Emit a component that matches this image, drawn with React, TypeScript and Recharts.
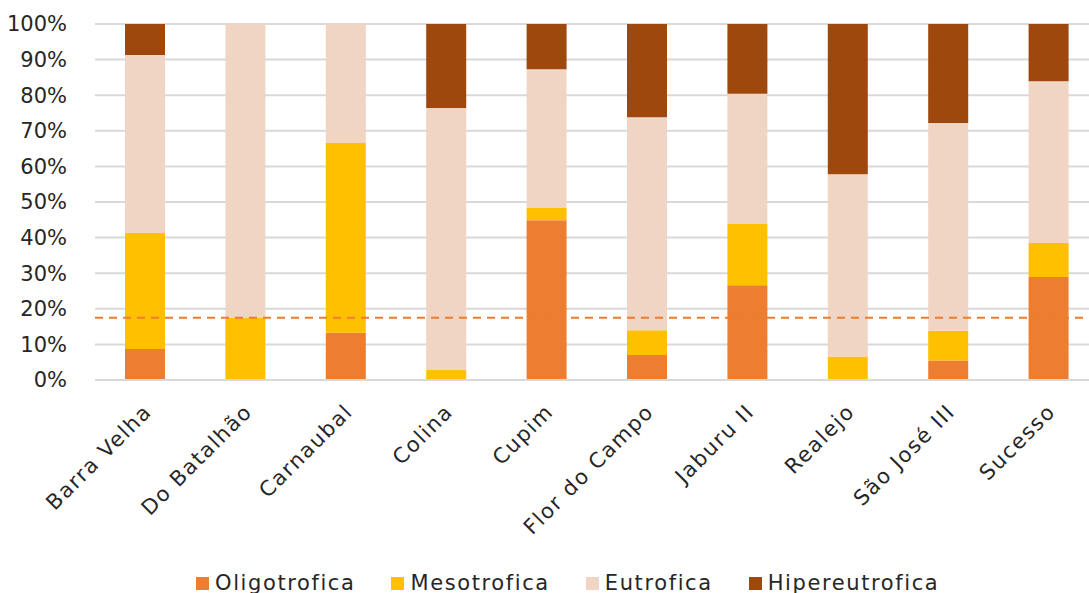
import React from 'react';
import { BarChart, Bar, XAxis, YAxis, CartesianGrid, Legend, ReferenceLine } from 'recharts';

const categories = ['Barra Velha', 'Do Batalhão', 'Carnaubal', 'Colina', 'Cupim', 'Flor do Campo', 'Jaburu II', 'Realejo', 'São José III', 'Sucesso'];
const oligotrofica = [8.7, 0, 13.3, 0, 44.9, 7.0, 26.6, 0, 5.5, 28.9];
const mesotrofica = [32.6, 17.4, 53.3, 2.8, 3.4, 7.0, 17.2, 6.6, 8.3, 9.6];
const eutrofica = [50.0, 82.6, 33.4, 73.6, 39.0, 59.8, 36.6, 51.2, 58.4, 45.4];
const hipereutrofica = [8.7, 0, 0, 23.6, 12.7, 26.2, 19.6, 42.2, 27.8, 16.1];
const yTicks = [0, 10, 20, 30, 40, 50, 60, 70, 80, 90, 100];
const referenceValue = 17.5;

const seriesNames = ['Oligotrofica', 'Mesotrofica', 'Eutrofica', 'Hipereutrofica'];
const seriesColors = ['#ED7D31', '#FFC000', '#F0D5C4', '#9E480E'];

const data = categories.map((c, i) => ({
  name: c,
  Oligotrofica: oligotrofica[i],
  Mesotrofica: mesotrofica[i],
  Eutrofica: eutrofica[i],
  Hipereutrofica: hipereutrofica[i],
}));

const FONT = '"DejaVu Sans", sans-serif';
const TEXT = '#262626';

const XTick = (props: any) => {
  const { x, y, payload } = props;
  return (
    <g transform={`translate(${x - 2},${y + 15})`}>
      <text
        x={0}
        y={0}
        dy={14}
        textAnchor="end"
        transform="rotate(-45)"
        fill={TEXT}
        fontSize={21}
        letterSpacing={1.6}
        fontFamily={FONT}
      >
        {payload.value}
      </text>
    </g>
  );
};

const LegendContent = () => (
  <div style={{ display: 'flex', justifyContent: 'flex-start', paddingLeft: 196, fontFamily: FONT, fontSize: 21, letterSpacing: 1.6, color: TEXT, lineHeight: '24px' }}>
    {seriesNames.map((n, i) => (
      <div key={n} style={{ display: 'flex', alignItems: 'center', marginRight: 36 }}>
        <span style={{ display: 'inline-block', width: 13, height: 13, background: seriesColors[i], marginRight: 6 }} />
        <span>{n}</span>
      </div>
    ))}
  </div>
);

export default function App() {
  return (
    <div style={{ position: 'fixed', left: 0, top: 0, width: 1089, height: 593, overflow: 'hidden', background: '#fff' }}>
      <BarChart
        width={1099}
        height={601}
        data={data}
        margin={{ top: 24, right: 0, bottom: 0, left: 0 }}
      >
        <CartesianGrid vertical={false} stroke="#D9D9D9" strokeWidth={2} />
        <XAxis
          dataKey="name"
          interval={0}
          tick={<XTick />}
          tickLine={false}
          axisLine={{ stroke: '#D9D9D9', strokeWidth: 2 }}
          height={191}
        />
        <YAxis
          domain={[0, 100]}
          ticks={yTicks}
          tickFormatter={(v: number) => `${v}%`}
          axisLine={false}
          tickLine={false}
          width={95}
          tickMargin={22}
          tick={{ fill: TEXT, fontSize: 21, fontFamily: FONT }}
          interval={0}
        />
        {seriesNames.map((n, i) => (
          <Bar key={n} dataKey={n} stackId="a" fill={seriesColors[i]} barSize={40} isAnimationActive={false} />
        ))}
        <ReferenceLine y={referenceValue} stroke="#ED7D31" strokeWidth={2} strokeDasharray="8 6" />
        <Legend verticalAlign="bottom" height={30} content={<LegendContent />} />
      </BarChart>
    </div>
  );
}
